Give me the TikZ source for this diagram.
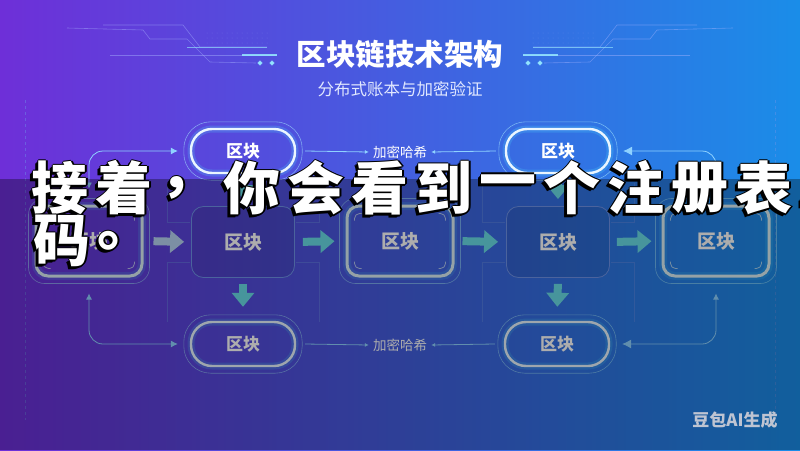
\documentclass[tikz,border=0pt]{standalone}
\usepackage{fontspec}
\setmainfont{Noto Sans CJK SC}
\usetikzlibrary{arrows.meta,calc}
\definecolor{bgL}{HTML}{6E2FD8}
\definecolor{bgR}{HTML}{1A8DE8}
\definecolor{pillline}{HTML}{EAF6FF}
\definecolor{glowc}{HTML}{4FD8FF}
\definecolor{boxline}{HTML}{DCEFF6}
\definecolor{plainline}{HTML}{6F93E8}
\definecolor{connc}{HTML}{8FD2FF}
\definecolor{tealc}{HTML}{6ADCE6}
\definecolor{steelc}{HTML}{B8D4F2}
\definecolor{decoc}{HTML}{A8B4FF}
\definecolor{wmark}{HTML}{BEC4D2}
\newcommand\mydecolines{%
  \draw[decoline] (67,28) -- (143,30) -- (150,39) -- (187,39) -- (210,62) -- (256,63);
  \draw[decoline] (103,25) -- (183,25) -- (200,47) -- (267,47);
  \draw[decoline] (110,55) -- (277,55);
  \draw[decobright] (242,55) -- (277,55);
  \draw[decobright, line width=.7pt, opacity=.6] (187,47) -- (267,47);
  \fill[decobright] (260,63) circle (1.6);
  \fill[decobright] (272,63) circle (1.6);
  \foreach \yy in {33,38,43} \foreach \xx in {207,212,...,270} \fill[decoc, opacity=.25] (\xx,\yy) circle (.5);
}
\tikzset{
  decoline/.style={draw=decoc, line width=.6pt, opacity=.45},
  decobright/.style={draw=glowc!60!white, fill=glowc!60!white, line width=1.6pt, opacity=.85},
  pillT/.style={draw=pillline, line width=2.4pt, rounded corners=21pt,
    minimum width=104pt, minimum height=44pt, text=white,
    font=\fontsize{17}{17}\selectfont\bfseries,
    preaction={draw=glowc, line width=7pt, draw opacity=.22}},
  outerline/.style={draw=glowc!50!white, line width=.6pt, opacity=.55},
  glowbox/.style={draw=boxline, line width=3pt, rounded corners=12pt,
    minimum width=106pt, minimum height=70pt, text=white,
    font=\fontsize{19}{19}\selectfont\bfseries,
    preaction={draw=glowc, line width=8pt, draw opacity=.18}},
  plainbox/.style={draw=plainline, line width=.8pt, rounded corners=12pt,
    minimum width=103pt, minimum height=71pt, text=white,
    fill=black, fill opacity=.08, text opacity=1,
    font=\fontsize{19}{19}\selectfont\bfseries},
  lbl/.style={text=white, font=\fontsize{13.5}{13.5}\selectfont, inner sep=4pt},
  thinconn/.style={draw=connc, line width=.8pt},
  fatarrow/.style={line width=8pt, -{Triangle[length=14pt,width=22pt]}},
  faintline/.style={draw=plainline, line width=.6pt, opacity=.45},
  ovtxt/.style={font=\fontsize{57}{57}\selectfont\bfseries, inner sep=0pt},
}
\begin{document}
\begin{tikzpicture}[x=1pt,y=-1pt]
\useasboundingbox (0,0) rectangle (800,450);
\shade[left color=bgL, right color=bgR] (0,0) rectangle (800,450);
% header decoration
\mydecolines
\begin{scope}[shift={(800,0)}, xscale=-1]
\mydecolines
\end{scope}
% outer faint dashed lines
\draw[faintline, dashed] (25,100) -- (25,420);
\draw[faintline, dashed] (775,100) -- (775,420);
% titles
\node[text=white, font=\fontsize{29.5}{29.5}\selectfont\bfseries] (title) at (400,54) {区块链技术架构};
\node[text={rgb,255:red,225;green,232;blue,255}, font=\fontsize{16.5}{16.5}\selectfont] (sub) at (400,89) {分布式账本与加密验证};
% faint brackets round plain blocks
\foreach \cx in {243,558} {
  \draw[faintline] (\cx-76,183) -- (\cx-76,222) -- (\cx-53,222);
  \draw[faintline] (\cx-53,262) -- (\cx-76,262) -- (\cx-76,322);
  \draw[faintline] (\cx+76,183) -- (\cx+76,222) -- (\cx+53,222);
  \draw[faintline] (\cx+53,262) -- (\cx+76,262) -- (\cx+76,322);
}
% nodes
\node[pillT] (p1) at (243,151) {区块};
\node[pillT] (p2) at (558,151) {区块};
\node[glowbox] (b1) at (89,241) {区块};
\node[plainbox] (b2) at (243,242) {区块};
\node[glowbox] (b3) at (400,241) {区块};
\node[plainbox] (b4) at (558,242) {区块};
\node[glowbox] (b5) at (716,241) {区块};
\node[pillT] (q1) at (243,344) {区块};
\node[pillT] (q2) at (557,344) {区块};
\node[lbl] (lt) at (400,152) {加密哈希};
\node[lbl] (lb) at (400,345) {加密哈希};
% outer outlines
\foreach \n in {p1,p2,q1,q2}
  \draw[outerline, rounded corners=27pt] ([shift={(-6,6)}]\n.south west) rectangle ([shift={(6,-6)}]\n.north east);
\foreach \n in {b1,b3,b5} {
  \draw[outerline, rounded corners=16pt] ([shift={(-6,6)}]\n.south west) rectangle ([shift={(6,-6)}]\n.north east);
  \foreach \sx/\sy/\an in {1/1/north west, -1/1/north east, 1/-1/south west, -1/-1/south east}
    \draw[boxline, line width=.8pt, opacity=.7, rounded corners=5pt]
      ([shift={(9*\sx,16*\sy)}]\n.\an) -- ([shift={(9*\sx,9*\sy)}]\n.\an) -- ([shift={(16*\sx,9*\sy)}]\n.\an);
}
% thin connectors with hash labels
\draw[thinconn, -{Latex[length=4pt,width=4pt]}] ([shift={(9,0)}]p1.east) -- (lt.west);
\draw[thinconn, -{Latex[length=4pt,width=4pt]}] ([shift={(-9,0)}]p2.west) -- (lt.east);
\draw[thinconn, -{Latex[length=4pt,width=4pt]}] ([shift={(9,0)}]q1.east) -- (lb.west);
\draw[thinconn, -{Latex[length=4pt,width=4pt]}] ([shift={(-9,0)}]q2.west) -- (lb.east);
% side loops
\draw[thinconn, {Latex[length=6pt,width=6pt]}-{Latex[length=7pt,width=7pt]}, rounded corners=14pt]
  ([shift={(0,-16)}]b1.north) -- (b1.north |- p1.west) -- ([shift={(-12,0)}]p1.west);
\draw[thinconn, {Latex[length=6pt,width=6pt]}-{Latex[length=7pt,width=7pt]}, rounded corners=14pt]
  ([shift={(0,16)}]b1.south) -- (b1.south |- q1.west) -- ([shift={(-12,0)}]q1.west);
\draw[thinconn, {Latex[length=6pt,width=6pt]}-{Latex[length=9pt,width=9pt]}, rounded corners=14pt]
  ([shift={(0,-16)}]b5.north) -- (b5.north |- p2.east) -- ([shift={(12,0)}]p2.east);
\draw[thinconn, {Latex[length=6pt,width=6pt]}-{Latex[length=9pt,width=9pt]}, rounded corners=14pt]
  ([shift={(0,16)}]b5.south) -- (b5.south |- q2.east) -- ([shift={(12,0)}]q2.east);
% fat arrows
\draw[fatarrow, draw=steelc, fill=steelc, shorten <=10pt, shorten >=7pt] (b1.east) -- (b2.west);
\draw[fatarrow, draw=tealc, fill=tealc, shorten <=8pt, shorten >=11pt] (b2.east) -- (b3.west);
\draw[fatarrow, draw=tealc, fill=tealc, shorten <=8pt, shorten >=8pt] (b3.east) -- (b4.west);
\draw[fatarrow, draw=tealc, fill=tealc, shorten <=7pt, shorten >=10pt] (b4.east) -- (b5.west);
\draw[fatarrow, draw=tealc, fill=tealc, shorten <=6pt, shorten >=7pt] (p1.south) -- (b2.north);
\draw[fatarrow, draw=tealc, fill=tealc, shorten <=6pt, shorten >=7pt] (p2.south) -- (b4.north);
\draw[fatarrow, draw=tealc, fill=tealc, shorten <=6pt, shorten >=14pt] (b2.south) -- (q1.north);
\draw[fatarrow, draw=tealc, fill=tealc, shorten <=6pt, shorten >=14pt] (b4.south) -- (q2.north);
% dark overlay band
\fill[black, opacity=.32] (0,179) rectangle (800,450);
% watermark
\node[text=wmark, font=\fontsize{17}{17}\selectfont\bfseries] (wm) at (735,420) {豆包AI生成};
% overlay caption
\foreach \c [count=\i from 0] in {接,着,，,你,会,看,到,一,个,注,册,表,单} {
  \foreach \dx/\dy [count=\k] in {-3/3,-1.5/0,1.5/0,0/-1.5,0/1.5,-2/2,1/1} {
    \node[ovtxt, text=black] (ovs\i-\k) at (60+64*\i+\dx,188+\dy) {\c};
  }
  \node[ovtxt, text=white] (ov\i) at (60+64*\i,188) {\c};
}
\foreach \c [count=\i from 0] in {码,。} {
  \foreach \dx/\dy [count=\k] in {-3/3,-1.5/0,1.5/0,0/-1.5,0/1.5,-2/2,1/1} {
    \node[ovtxt, text=black] (ovt\i-\k) at (62+64*\i+\dx,241+\dy) {\c};
  }
  \node[ovtxt, text=white] (ow\i) at (62+64*\i,241) {\c};
}
\end{tikzpicture}
\end{document}
